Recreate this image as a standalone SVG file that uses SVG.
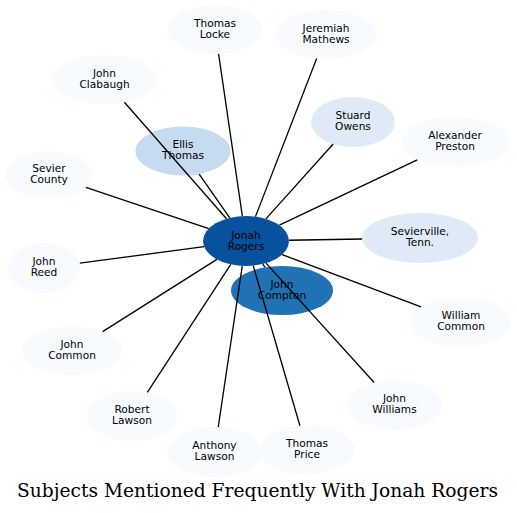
<svg xmlns="http://www.w3.org/2000/svg" width="517" height="513" viewBox="0 0 517 513">
<style>
.n text{font-family:"DejaVu Sans","Noto Sans",sans-serif;font-size:10.6px;text-anchor:middle;fill:#000}
.l0{fill:#f7fbff}
.l1{fill:#deebf7}
.l2{fill:#c6dbef}
.l3{fill:#2171b5}
.l4{fill:#08519c}
#edges line{stroke:#000;stroke-width:1.3}
.title{font-family:"DejaVu Serif","Liberation Serif",serif;font-size:18px;text-anchor:middle;fill:#000}
</style>
<rect width="517" height="513" fill="#fff"/>
<g id="nodes" class="n">
<g id="thomas-locke"><ellipse class="l0" cx="215" cy="29.5" rx="47" ry="24.5"/><text x="215" y="26.7">Thomas</text><text x="215" y="37.9">Locke</text></g>
<g id="jeremiah-mathews"><ellipse class="l0" cx="326" cy="34.5" rx="50" ry="24.5"/><text x="326" y="31.7">Jeremiah</text><text x="326" y="42.9">Mathews</text></g>
<g id="john-clabaugh"><ellipse class="l0" cx="104.5" cy="79.5" rx="53" ry="24.5"/><text x="104.5" y="76.7">John</text><text x="104.5" y="87.9">Clabaugh</text></g>
<g id="stuard-owens"><ellipse class="l1" cx="353" cy="122" rx="42" ry="25"/><text x="353" y="119.2">Stuard</text><text x="353" y="130.4">Owens</text></g>
<g id="alexander-preston"><ellipse class="l0" cx="455" cy="142" rx="54" ry="25"/><text x="455" y="139.2">Alexander</text><text x="455" y="150.4">Preston</text></g>
<g id="ellis-thomas"><ellipse class="l2" cx="183" cy="151" rx="47.5" ry="24.5"/><text x="183" y="148.2">Ellis</text><text x="183" y="159.4">Thomas</text></g>
<g id="sevier-county"><ellipse class="l0" cx="49" cy="175" rx="43" ry="24"/><text x="49" y="172.2">Sevier</text><text x="49" y="183.4">County</text></g>
<g id="jonah-rogers"><ellipse class="l4" cx="246" cy="241" rx="43" ry="25"/><text x="246" y="238.5">Jonah</text><text x="246" y="249.7">Rogers</text></g>
<g id="sevierville-tenn"><ellipse class="l1" cx="420" cy="238" rx="58" ry="25"/><text x="420" y="235.2">Sevierville,</text><text x="420" y="246.4">Tenn.</text></g>
<g id="john-reed"><ellipse class="l0" cx="44" cy="268" rx="36.5" ry="25"/><text x="44" y="265.2">John</text><text x="44" y="276.4">Reed</text></g>
<g id="john-compton"><ellipse class="l3" cx="282" cy="290.5" rx="51" ry="24.5"/><text x="282" y="287.7">John</text><text x="282" y="298.9">Compton</text></g>
<g id="william-common"><ellipse class="l0" cx="461" cy="322" rx="50" ry="25"/><text x="461" y="319.2">William</text><text x="461" y="330.4">Common</text></g>
<g id="john-common"><ellipse class="l0" cx="72" cy="351" rx="50" ry="24.5"/><text x="72" y="348.2">John</text><text x="72" y="359.4">Common</text></g>
<g id="john-williams"><ellipse class="l0" cx="394.5" cy="405" rx="47" ry="25"/><text x="394.5" y="402.2">John</text><text x="394.5" y="413.4">Williams</text></g>
<g id="robert-lawson"><ellipse class="l0" cx="132" cy="416" rx="45.5" ry="25"/><text x="132" y="413.2">Robert</text><text x="132" y="424.4">Lawson</text></g>
<g id="thomas-price"><ellipse class="l0" cx="307" cy="450" rx="47.5" ry="24.5"/><text x="307" y="447.2">Thomas</text><text x="307" y="458.4">Price</text></g>
<g id="anthony-lawson"><ellipse class="l0" cx="214.5" cy="452" rx="47.5" ry="25"/><text x="214.5" y="449.2">Anthony</text><text x="214.5" y="460.4">Lawson</text></g>
</g>
<g id="edges">
<line x1="242.35" y1="216.09" x2="218.58" y2="53.93"/>
<line x1="255.45" y1="216.61" x2="316.67" y2="58.57"/>
<line x1="265.92" y1="218.84" x2="333.18" y2="144.04"/>
<line x1="279.34" y1="225.21" x2="417.25" y2="159.88"/>
<line x1="288.98" y1="240.26" x2="362.04" y2="239.0"/>
<line x1="282.08" y1="254.59" x2="421.07" y2="306.96"/>
<line x1="266.03" y1="263.12" x2="374.11" y2="382.48"/>
<line x1="253.19" y1="265.65" x2="299.93" y2="425.77"/>
<line x1="242.28" y1="265.9" x2="218.22" y2="427.08"/>
<line x1="230.77" y1="264.38" x2="147.33" y2="392.46"/>
<line x1="216.89" y1="259.4" x2="102.63" y2="331.64"/>
<line x1="204.09" y1="246.6" x2="79.82" y2="263.21"/>
<line x1="208.75" y1="228.52" x2="85.87" y2="187.35"/>
<line x1="226.48" y1="218.73" x2="124.4" y2="102.21"/>
<line x1="229.79" y1="217.84" x2="199.13" y2="174.05"/>
<line x1="262.74" y1="264.02" x2="265.18" y2="267.37"/>
</g>
<text class="title" x="257.5" y="496.7" textLength="481" lengthAdjust="spacingAndGlyphs">Subjects Mentioned Frequently With Jonah Rogers</text>
</svg>
